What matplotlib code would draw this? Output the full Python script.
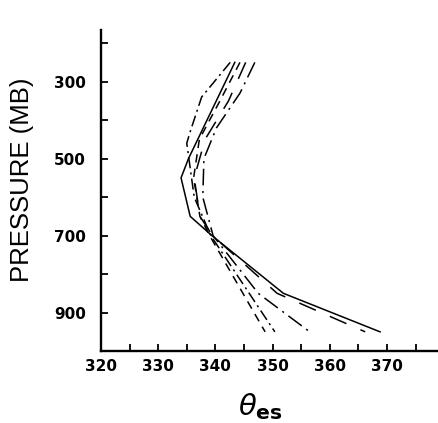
import matplotlib
matplotlib.use('Agg')
import matplotlib.pyplot as plt

plt.rcParams['lines.scale_dashes'] = False

# theta_es profiles (K) vs pressure (mb)
solid_p = [250, 500, 550, 650, 700, 850, 950]
solid_t = [343.4, 335.3, 334.0, 335.6, 339.4, 351.9, 368.8]

longdash_p = [250, 350, 450, 550, 650, 700, 850, 950]
longdash_t = [345.3, 342.3, 338.2, 336.3, 337.3, 339.5, 350.8, 366.2]

dashdot_long_p = [250, 330, 420, 500, 600, 700, 850, 950]
dashdot_long_t = [346.9, 344.3, 340.2, 338.0, 337.8, 339.6, 347.5, 356.5]

shortdash_p = [250, 350, 450, 550, 650, 700, 950]
shortdash_t = [344.3, 340.8, 337.2, 336.2, 337.3, 339.0, 348.7]

dashdot_p = [250, 340, 430, 460, 600, 700, 950]
dashdot_t = [342.6, 337.6, 335.6, 335.0, 336.3, 339.2, 350.4]

xticks = [320, 330, 340, 350, 360, 370]
yticks = [300, 500, 700, 900]

fig = plt.figure(figsize=(4.39, 4.23), dpi=100)
ax = fig.add_axes([0.230, 0.170, 0.770, 0.759])

lw = 1.1
ax.plot(solid_t, solid_p, color='black', lw=lw)
ax.plot(longdash_t, longdash_p, color='black', lw=lw, dashes=(13, 11))
ax.plot(dashdot_long_t, dashdot_long_p, color='black', lw=lw,
        dashes=(12, 4, 1.5, 4))
ax.plot(shortdash_t, shortdash_p, color='black', lw=lw, dashes=(6, 4.5))
ax.plot(dashdot_t, dashdot_p, color='black', lw=lw, dashes=(8, 3, 1.5, 3))

ax.set_xlim(320, 379.1)
ax.set_ylim(1000, 166)

ax.spines['top'].set_visible(False)
ax.spines['right'].set_visible(False)
ax.spines['left'].set_linewidth(1.7)
ax.spines['bottom'].set_linewidth(1.7)

ax.set_xticks(xticks)
ax.set_xticks([325, 335, 345, 355, 365, 375], minor=True)
ax.set_yticks(yticks)
ax.set_yticks([200, 400, 600, 800], minor=True)
ax.tick_params(which='both', direction='in', length=5, width=1.3)
ax.tick_params(axis='x', pad=6)
ax.tick_params(axis='y', pad=11)
for lab in ax.get_xticklabels() + ax.get_yticklabels():
    lab.set_fontweight('bold')
    lab.set_fontsize(11)

ax.set_ylabel('PRESSURE (MB)', family='Liberation Sans', fontsize=18.5,
              va='center')
ax.yaxis.set_label_coords(-0.234, 0.533)
ax.set_xlabel(r'$\theta_{\mathbf{es}}$', fontsize=21, va='top')
ax.xaxis.set_label_coords(0.473, -0.125)

fig.savefig('out.png', dpi=100)
